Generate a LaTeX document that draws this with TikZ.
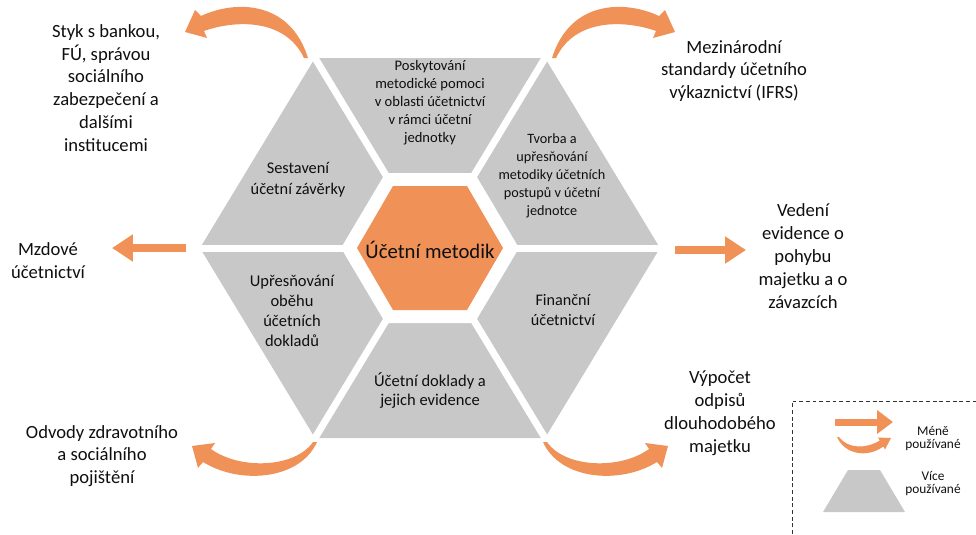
\documentclass[tikz,border=0pt]{standalone}
\usepackage{fontspec}
\setmainfont{Carlito}
\usetikzlibrary{arrows.meta}
\definecolor{hexgray}{RGB}{200,200,200}
\definecolor{metorange}{RGB}{240,146,88}
\definecolor{txt}{RGB}{15,15,15}
\tikzset{
  outerlbl/.style={align=center, inner sep=0pt, text=txt, font=\fontsize{10.6}{13}\selectfont},
  piecelbl/.style={align=center, inner sep=0pt, text=txt},
  legendlbl/.style={align=center, inner sep=0pt, text=txt, font=\fontsize{7.6}{7.4}\selectfont},
  flatarrow/.style={draw=metorange, line width=0.16cm, -{Triangle[width=0.52cm,length=0.42cm]}},
  smallarrow/.style={draw=metorange, line width=0.14cm, -{Triangle[width=0.46cm,length=0.32cm]}},
  gapline/.style={draw=white, line width=0.14cm},
  curvedarrow/.style={fill=metorange},
  legendbox/.style={draw=black!80, line width=0.55pt, dash pattern=on 2.2pt off 1.6pt}
}
\begin{document}
\begin{tikzpicture}[x=0.02cm, y=-0.02cm]
\useasboundingbox (0,0) rectangle (976,534);
% hexagon vertices
\coordinate (C) at (430,248);
\coordinate (oL) at (200,248);
\coordinate (oTL) at (315,58);
\coordinate (oTR) at (545,58);
\coordinate (oR) at (660,248);
\coordinate (oBR) at (545,438);
\coordinate (oBL) at (315,438);
\fill[hexgray] (oL) -- (oTL) -- (oTR) -- (oR) -- (oBR) -- (oBL) -- cycle;
\foreach \v in {oL,oTL,oTR,oR,oBR,oBL} \draw[gapline] (C) -- (\v);
\fill[white] (341,248) -- (385.5,173) -- (474.5,173) -- (519,248) -- (474.5,323) -- (385.5,323) -- cycle;
\fill[metorange] (357,248) -- (393,186) -- (467,186) -- (503,248) -- (467,310) -- (393,310) -- cycle;

% piece texts
\node[piecelbl, font=\fontsize{8.3}{10.2}\selectfont] (posk) at (430,103) {Poskytování\\metodické pomoci\\v oblasti účetnictví\\v rámci účetní\\jednotky};
\node[piecelbl, font=\fontsize{9.3}{12}\selectfont] (sest) at (298,180) {Sestavení\\účetní závěrky};
\node[piecelbl, font=\fontsize{8.1}{10.3}\selectfont] (tvor) at (552,176) {Tvorba a\\upřesňování\\metodiky účetních\\postupů v účetní\\jednotce};
\node[piecelbl, font=\fontsize{9.4}{11.3}\selectfont] (upr) at (292,311) {Upřesňování\\oběhu\\účetních\\dokladů};
\node[piecelbl, font=\fontsize{9.4}{10.8}\selectfont] (dokl) at (430,391) {Účetní doklady a\\jejich evidence};
\node[piecelbl, font=\fontsize{9.2}{11.3}\selectfont] (fin) at (563,310) {Finanční\\účetnictví};
\node[piecelbl, font=\fontsize{11.8}{14}\selectfont] (met) at (430,250) {Účetní metodik};

% outer labels
\node[outerlbl] (styk) at (106,88) {Styk s bankou,\\FÚ, správou\\sociálního\\zabezpečení a\\dalšími\\institucemi};
\node[outerlbl] (ifrs) at (734,71) {Mezinárodní\\standardy účetního\\výkaznictví (IFRS)};
\node[outerlbl] (vede) at (803,256) {Vedení\\evidence o\\pohybu\\majetku a o\\závazcích};
\node[outerlbl] (mzd) at (48,261) {Mzdové\\účetnictví};
\node[outerlbl] (odv) at (102,456) {Odvody zdravotního\\a sociálního\\pojištění};
\node[outerlbl] (vyp) at (720,413) {Výpočet\\odpisů\\dlouhodobého\\majetku};

% straight arrows
\coordinate (la0) at (186,248); \coordinate (la1) at (112,248);
\draw[flatarrow] (la0) -- (la1);
\coordinate (ra0) at (675,250); \coordinate (ra1) at (746,250);
\draw[flatarrow] (ra0) -- (ra1);

% curved arrows
\fill[curvedarrow] (308,58) .. controls (290,0) and (235,0) .. (201,16) -- (195,10) -- (185,32) -- (207,38) -- (204,31) .. controls (235,20) and (285,18) .. (304,58) -- cycle;
\fill[curvedarrow] (552,58) .. controls (570,0) and (625,0) .. (659,16) -- (665,10) -- (675,32) -- (653,38) -- (656,31) .. controls (625,20) and (575,18) .. (556,58) -- cycle;
\fill[curvedarrow] (317,442) .. controls (300,480) and (240,485) .. (203,462) -- (198,468) -- (192,446) -- (215,443) -- (211,449) .. controls (240,470) and (295,468) .. (313,442) -- cycle;
\fill[curvedarrow] (543,442) .. controls (560,480) and (620,485) .. (657,462) -- (662,468) -- (668,446) -- (645,443) -- (649,449) .. controls (620,470) and (565,468) .. (547,442) -- cycle;

% legend
\coordinate (lgA) at (792,534); \coordinate (lgB) at (792,401); \coordinate (lgC) at (976,401);
\draw[legendbox] (lgA) -- (lgB) -- (lgC);
\coordinate (lsa0) at (835,422); \coordinate (lsa1) at (893,422);
\draw[smallarrow] (lsa0) -- (lsa1);
\fill[curvedarrow] (837,437) .. controls (845,455) and (868,458) .. (883.3,446.5) -- (885,449.5) -- (891,438) -- (878,437.5) -- (879.7,440.5) .. controls (866,449) and (848,449) .. (839,437) -- cycle;
\fill[hexgray] (848,470) -- (880,470) -- (905,512) -- (823,512) -- cycle;
\node[legendlbl] (lmen) at (933,439) {Méně\\používané};
\node[legendlbl] (lvic) at (933,484) {Více\\používané};
\end{tikzpicture}
\end{document}
